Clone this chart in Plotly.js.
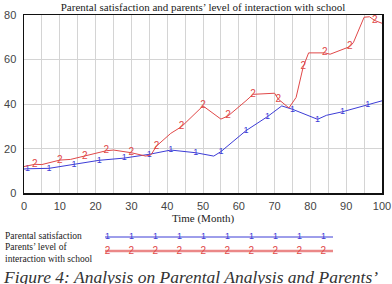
<!DOCTYPE html>
<html>
<head>
<meta charset="utf-8">
<script src="https://cdn.plot.ly/plotly-3.0.1.min.js"></script>
<style>
  html, body { margin: 0; padding: 0; background: #fff; }
  #chart { width: 392px; height: 284px; }
</style>
</head>
<body>
<div id="chart"></div>
<script>
// Simulation output: time in months
const timeSatisfaction = [0, 1, 7, 14, 21, 28, 35, 41, 48, 53, 55, 62, 68, 72, 75, 82, 84.5, 89, 96, 100];
const parentalSatisfaction = [10.9, 11, 11.2, 13, 14.8, 15.8, 17.5, 19.4, 18.2, 16.7, 18.7, 28.1, 34.4, 39.2, 37.7, 33.2, 35, 36.6, 39.8, 41.5];
const satisfactionMarks = ['', '1', '1', '1', '1', '1', '1', '1', '1', '', '1', '1', '1', '', '1', '1', '', '1', '1', ''];

const timeInteraction = [0, 3, 5, 10, 13, 17, 23, 25, 30, 34, 35.5, 37, 41, 44, 50, 55, 57, 62, 64, 70, 71, 74, 76, 78, 79.5, 84, 85.5, 91, 92, 95, 96.5, 98, 100];
const interactionLevel = [12, 13, 12.9, 14.9, 15.2, 16.7, 19.1, 19.4, 18.2, 16.7, 17.3, 21.2, 26.9, 29.9, 39.2, 33.3, 34.7, 41.5, 44.4, 44.9, 42.3, 38.3, 43, 56.8, 63, 63, 62.4, 65.8, 67.6, 79, 79.2, 77.5, 76.3];
const interactionMarks = ['', '2', '', '2', '', '2', '2', '', '2', '', '', '2', '', '2', '2', '', '2', '', '2', '', '2', '', '', '2', '', '2', '', '2', '', '', '', '2', ''];

// Legend key samples (numbered markers along each key line)
const keyPositions = [-0.1, 0, 1, 2, 3, 4, 5, 6, 7, 8, 9, 9.4];
const keySatisfactionText = ['', '1', '1', '1', '1', '1', '1', '1', '1', '1', '1', ''];
const keyInteractionText = ['', '2', '2', '2', '2', '2', '2', '2', '2', '2', '2', ''];

const xTickValues = [0, 10, 20, 30, 40, 50, 60, 70, 80, 90, 100];
const yTickValues = [0, 20, 40, 60, 80];

const BLUE = '#3c3cd6';
const RED = '#e04848';
const SERIF = 'Liberation Serif, Times New Roman, serif';
const SANS = 'Liberation Sans, Arial, sans-serif';

const traces = [
  {
    x: timeSatisfaction, y: parentalSatisfaction, text: satisfactionMarks,
    mode: 'lines+text', type: 'scatter', cliponaxis: false,
    line: { color: BLUE, width: 1 },
    textposition: 'middle center',
    textfont: { family: SANS, size: 9, color: BLUE },
    hoverinfo: 'skip', showlegend: false
  },
  {
    x: timeInteraction, y: interactionLevel, text: interactionMarks,
    mode: 'lines+text', type: 'scatter', cliponaxis: false,
    line: { color: RED, width: 1 },
    textposition: 'middle center',
    textfont: { family: SANS, size: 10, color: RED },
    hoverinfo: 'skip', showlegend: false
  },
  {
    x: keyPositions, y: keyPositions.map(() => 1), text: keySatisfactionText,
    xaxis: 'x2', yaxis: 'y2',
    mode: 'lines+text', type: 'scatter', cliponaxis: false,
    line: { color: BLUE, width: 1 },
    textposition: 'middle center',
    textfont: { family: SANS, size: 9, color: BLUE },
    hoverinfo: 'skip', showlegend: false
  },
  {
    x: keyPositions, y: keyPositions.map(() => 0), text: keyInteractionText,
    xaxis: 'x2', yaxis: 'y2',
    mode: 'lines+text', type: 'scatter', cliponaxis: false,
    line: { color: 'rgba(228,96,96,0.75)', width: 2.5 },
    textposition: 'middle center',
    textfont: { family: SANS, size: 10, color: RED },
    hoverinfo: 'skip', showlegend: false
  }
];

const H = 284, TOP = 15;
const plotH = H - TOP;
const py = v => (H - v) / plotH;        // pixel row -> paper y
const px = v => (v - 24) / 358;         // pixel column -> paper x

const layout = {
  width: 392, height: 284,
  margin: { l: 24, r: 10, t: TOP, b: 0, pad: 0 },
  paper_bgcolor: '#fff', plot_bgcolor: '#fff',
  showlegend: false,
  title: {
    text: 'Parental satisfaction and parents’ level of interaction with school',
    font: { family: SERIF, size: 11, color: '#222' },
    x: 0.5, xref: 'paper', y: 1 - 7 / H, yref: 'container', yanchor: 'middle'
  },
  xaxis: {
    range: [0, 100], domain: [0, 1], anchor: 'y',
    tickvals: xTickValues, ticks: '',
    showgrid: true, gridcolor: '#d4d4d4', gridwidth: 1,
    minor: { dtick: 5, showgrid: true, gridcolor: '#d4d4d4', gridwidth: 1, ticks: '' },
    showline: true, linecolor: '#111', linewidth: 1.5, mirror: true,
    zeroline: false,
    tickfont: { family: SANS, size: 11, color: '#444' },
    ticklabelstandoff: 2,
    title: { text: 'Time (Month)', font: { family: SERIF, size: 11, color: '#222' }, standoff: 2 },
    automargin: false, fixedrange: true
  },
  yaxis: {
    range: [0, 80], domain: [py(193.3), 1], anchor: 'x',
    tickvals: yTickValues, ticks: '',
    showgrid: true, gridcolor: '#d4d4d4', gridwidth: 1,
    showline: true, linecolor: '#111', linewidth: 1.5, mirror: true,
    zeroline: false,
    tickfont: { family: SANS, size: 11, color: '#444' },
    ticklabelstandoff: 4,
    automargin: false, fixedrange: true
  },
  xaxis2: {
    range: [-0.1, 9.4], domain: [px(105), px(333)], anchor: 'y2',
    visible: false, fixedrange: true
  },
  yaxis2: {
    range: [-0.5, 1.5], domain: [py(258), py(230)], anchor: 'x2',
    visible: false, fixedrange: true
  },
  annotations: [
    {
      text: 'Parental satisfaction', xref: 'paper', yref: 'paper',
      x: px(3), y: py(236), xanchor: 'left', yanchor: 'middle', showarrow: false,
      font: { family: SERIF, size: 9.5, color: '#222' }
    },
    {
      text: 'Parents’ level of<br>interaction with school', xref: 'paper', yref: 'paper',
      x: px(3), y: py(253), xanchor: 'left', yanchor: 'middle', align: 'left', showarrow: false,
      font: { family: SERIF, size: 9.5, color: '#222' }
    },
    {
      text: '<i>Figure 4: Analysis on Parental Analysis and Parents’</i>', xref: 'paper', yref: 'paper',
      x: px(1), y: py(265), xanchor: 'left', yanchor: 'top', showarrow: false,
      font: { family: SERIF, size: 17.5, color: '#333' }
    }
  ]
};

Plotly.newPlot('chart', traces, layout, { staticPlot: true, displayModeBar: false });
</script>
</body>
</html>
